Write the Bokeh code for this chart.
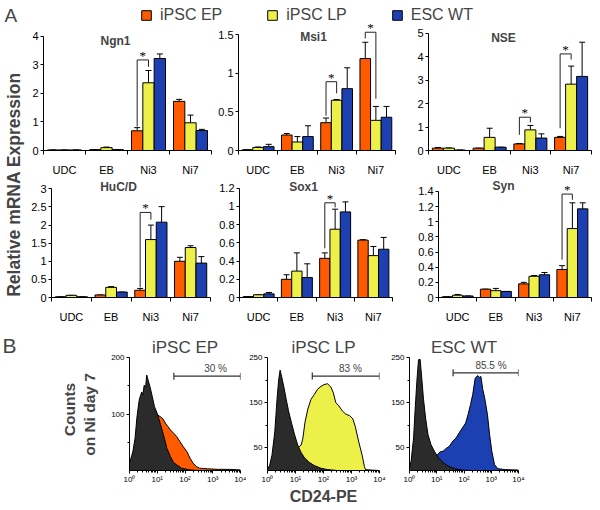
import math
from bokeh.plotting import figure
from bokeh.models import (ColumnDataSource, FactorRange, Range1d, LinearAxis, CategoricalAxis,
                          FixedTicker, Whisker, TeeHead, Label, LabelSet, Legend, LegendItem)
from bokeh.transform import dodge
from bokeh.layouts import column, row
from bokeh.embed import file_html
from bokeh.resources import INLINE

FONT = "Liberation Sans"
EP_C = "#FF5A00"
LP_C = "#EEF04A"
WT_C = "#1C40B2"
CTRL_C = "#2B2B2B"

categories = ["UDC", "EB", "Ni3", "Ni7"]
series_names = ["iPSC EP", "iPSC LP", "ESC WT"]

# ---------------- Panel A data (mean, SD) ----------------
ngn1_ep = [0.02, 0.03, 0.69, 1.72]
ngn1_ep_sd = [0.0, 0.0, 0.11, 0.07]
ngn1_lp = [0.02, 0.10, 2.37, 0.97]
ngn1_lp_sd = [0.0, 0.02, 0.43, 0.27]
ngn1_wt = [0.02, 0.03, 3.22, 0.70]
ngn1_wt_sd = [0.0, 0.0, 0.16, 0.04]
ngn1_ticks = [0, 1, 2, 3, 4]
ngn1_brackets = [("Ni3", 0.84, 3.17, 2.93)]

msi1_ep = [0.01, 0.20, 0.36, 1.19]
msi1_ep_sd = [0.0, 0.02, 0.06, 0.21]
msi1_lp = [0.04, 0.11, 0.65, 0.39]
msi1_lp_sd = [0.005, 0.07, 0.01, 0.18]
msi1_wt = [0.05, 0.18, 0.80, 0.43]
msi1_wt_sd = [0.03, 0.14, 0.27, 0.14]
msi1_ticks = [0, 0.5, 1, 1.5]
msi1_brackets = [("Ni3", 0.45, 0.89, 0.74), ("Ni7", 1.45, 1.53, 0.67)]

nse_ep = [0.10, 0.10, 0.28, 0.56]
nse_ep_sd = [0.03, 0.0, 0.02, 0.04]
nse_lp = [0.10, 0.56, 0.88, 2.83]
nse_lp_sd = [0.01, 0.39, 0.19, 0.77]
nse_wt = [0.02, 0.14, 0.53, 3.16]
nse_wt_sd = [0.0, 0.0, 0.18, 1.46]
nse_ticks = [0, 1, 2, 3, 4, 5]
nse_brackets = [("Ni3", 0.67, 1.42, 1.20), ("Ni7", 0.95, 4.12, 3.88)]

hucd_ep = [0.02, 0.07, 0.20, 1.00]
hucd_ep_sd = [0.0, 0.0, 0.05, 0.11]
hucd_lp = [0.06, 0.28, 1.60, 1.38]
hucd_lp_sd = [0.0, 0.02, 0.40, 0.05]
hucd_wt = [0.02, 0.15, 2.08, 0.95]
hucd_wt_sd = [0.0, 0.0, 0.43, 0.18]
hucd_ticks = [0, 0.5, 1, 1.5, 2, 2.5, 3]
hucd_brackets = [("Ni3", 0.28, 2.35, 2.15)]

sox1_ep = [0.01, 0.20, 0.43, 0.63]
sox1_ep_sd = [0.0, 0.05, 0.06, 0.005]
sox1_lp = [0.03, 0.29, 0.75, 0.46]
sox1_lp_sd = [0.0, 0.20, 0.22, 0.10]
sox1_wt = [0.04, 0.22, 0.94, 0.53]
sox1_wt_sd = [0.015, 0.15, 0.11, 0.13]
sox1_ticks = [0, 0.2, 0.4, 0.6, 0.8, 1, 1.2]
sox1_brackets = [("Ni3", 0.54, 1.04, 0.99)]

syn_ep = [0.01, 0.11, 0.18, 0.37]
syn_ep_sd = [0.0, 0.0, 0.02, 0.05]
syn_lp = [0.03, 0.09, 0.28, 0.91]
syn_lp_sd = [0.01, 0.03, 0.01, 0.34]
syn_wt = [0.02, 0.08, 0.30, 1.17]
syn_wt_sd = [0.0, 0.0, 0.03, 0.08]
syn_ticks = [0, 0.2, 0.4, 0.6, 0.8, 1, 1.2, 1.4]
syn_brackets = [("Ni7", 0.50, 1.365, 1.29)]

# ---------------- Panel B data (log10 CD24-PE, counts) ----------------
ep_ctrl_x = [0.0, 0.12, 0.2, 0.27, 0.35, 0.44, 0.48, 0.53, 0.58, 0.62, 0.67, 0.74, 0.82, 0.9, 1.0,
             1.12, 1.24, 1.35, 1.47, 1.59, 1.7, 1.88, 2.18, 2.5, 4.0]
ep_ctrl_y = [13, 33, 57, 95, 125, 139, 134, 151, 147, 169, 160, 148, 131, 113, 101,
             81, 60, 39, 25, 14, 10, 4, 1, 0, 0]
ep_x = [0.0, 0.2, 0.4, 0.6, 0.8, 0.94, 1.02, 1.12, 1.21, 1.29, 1.38, 1.47, 1.59, 1.7, 1.82,
        1.94, 2.06, 2.18, 2.29, 2.41, 2.53, 2.8, 3.2, 3.6, 4.0]
ep_y = [5, 20, 50, 80, 95, 101, 98, 95, 91, 84, 78, 72, 66, 60, 51,
        42, 34, 22, 13, 7, 4, 3, 2, 2, 1]

lp_ctrl_x = [0.0, 0.08, 0.16, 0.26, 0.34, 0.4, 0.45, 0.49, 0.58, 0.67, 0.75, 0.85, 0.96, 1.08,
             1.2, 1.32, 1.49, 1.67, 1.91, 2.14, 2.5, 4.0]
lp_ctrl_y = [3, 12, 34, 85, 157, 201, 222, 212, 186, 157, 132, 107, 81, 56,
             40, 28, 18, 11, 5, 2, 0, 0]
lp_x = [0.0, 0.2, 0.4, 0.6, 0.8, 1.0, 1.11, 1.2, 1.26, 1.34, 1.44, 1.55, 1.67, 1.79, 1.91, 2.02,
        2.14, 2.26, 2.35, 2.44, 2.55, 2.67, 2.79, 2.94, 3.05, 3.14, 3.26, 3.38, 3.46, 3.5, 3.7, 4.0]
lp_y = [2, 10, 25, 35, 42, 48, 52, 56, 70, 107, 136, 157, 168, 180, 186, 190,
        192, 185, 172, 150, 143, 132, 125, 121, 114, 96, 63, 34, 9, 2, 1, 0]

wt_ctrl_x = [0.0, 0.06, 0.15, 0.21, 0.27, 0.33, 0.39, 0.45, 0.51, 0.59, 0.68, 0.79, 0.91, 1.06,
             1.24, 1.41, 1.65, 1.94, 2.3, 4.0]
wt_ctrl_y = [5, 21, 72, 138, 197, 245, 246, 204, 160, 116, 79, 57, 43, 28,
             17, 10, 4, 1, 0, 0]
wt_x = [0.0, 0.2, 0.4, 0.6, 0.8, 1.0, 1.12, 1.24, 1.35, 1.47, 1.59, 1.71, 1.82, 1.94, 2.06, 2.15,
        2.24, 2.32, 2.41, 2.5, 2.56, 2.62, 2.69, 2.76, 2.86, 2.94, 3.02, 3.12, 3.24, 3.5, 4.0]
wt_y = [2, 8, 15, 22, 28, 33, 41, 43, 49, 54, 65, 72, 83, 94, 105, 124,
        146, 168, 204, 210, 206, 208, 179, 160, 124, 79, 43, 13, 4, 2, 1]

hist_titles = ["iPSC EP", "iPSC LP", "ESC WT"]
gate_range = [1.6, 4.0]
gate_levels = [167, 209, 216]
gate_pcts = ["30 %", "83 %", "85.5 %"]
decade_ticks = [0, 1, 2, 3, 4]
decade_labels = ["10\u2070", "10\u00b9", "10\u00b2", "10\u00b3", "10\u2074"]

OFFS = [-0.27, 0.0, 0.27]
BW = 0.27


def style_axis(ax, size="11px"):
    ax.major_label_text_font = FONT
    ax.major_label_text_font_size = size
    ax.major_label_text_color = "black"
    ax.axis_line_color = "black"
    ax.major_tick_line_color = "black"


def blank(w, h):
    f = figure(width=w, height=h, x_range=Range1d(0, 1), y_range=Range1d(0, 1),
               x_axis_type=None, y_axis_type=None, output_backend="svg", toolbar_location=None,
               min_border=0, title=None)
    f.outline_line_color = None
    return f


def bar_panel(title, ep, ep_sd, lp, lp_sd, wt, wt_sd, ticks, y_end, brackets,
              w, h, bl, br, bb, title_xy):
    data = dict(cat=categories, ep=ep, lp=lp, wt=wt,
                ep_hi=[m + s for m, s in zip(ep, ep_sd)],
                lp_hi=[m + s for m, s in zip(lp, lp_sd)],
                wt_hi=[m + s for m, s in zip(wt, wt_sd)])
    src = ColumnDataSource(data)
    p = figure(width=w, height=h, x_range=FactorRange(*categories), y_range=Range1d(0, y_end),
               x_axis_type=None, y_axis_type=None, output_backend="svg", toolbar_location=None,
               min_border_left=bl, min_border_right=br, min_border_top=0, min_border_bottom=bb,
               title=None)
    p.outline_line_color = None

    yax = LinearAxis(ticker=FixedTicker(ticks=ticks), bounds=(0, ticks[-1]),
                     major_label_overrides={t: f"{t:g}" for t in ticks},
                     major_tick_out=3, major_tick_in=0, minor_tick_line_color=None,
                     major_label_standoff=2)
    style_axis(yax)
    p.add_layout(yax, "left")

    edges = list(range(len(categories) + 1))
    tax = LinearAxis(ticker=FixedTicker(ticks=edges),
                     major_label_overrides={e: "" for e in edges},
                     major_tick_out=4, major_tick_in=0, minor_tick_line_color=None,
                     major_label_standoff=0)
    style_axis(tax, "1px")
    p.add_layout(tax, "below")
    cax = CategoricalAxis(axis_line_color=None, major_tick_line_color=None,
                          major_label_standoff=3)
    cax.major_label_text_font = FONT
    cax.major_label_text_font_size = "11px"
    cax.major_label_text_color = "black"
    p.add_layout(cax, "below")

    for key, off, col in zip(["ep", "lp", "wt"], OFFS, [EP_C, LP_C, WT_C]):
        p.vbar(x=dodge("cat", off, range=p.x_range), top=key, width=BW, source=src,
               fill_color=col, line_color="black", line_width=1)
        p.add_layout(Whisker(source=src, base=dodge("cat", off, range=p.x_range),
                             lower=key, upper=key + "_hi", line_color="black", line_width=1,
                             lower_head=None,
                             upper_head=TeeHead(size=6, line_color="black", line_width=1)))

    bsrc = ColumnDataSource(dict(cat=[b[0] for b in brackets], lb=[b[1] for b in brackets],
                                 top=[b[2] for b in brackets], rb=[b[3] for b in brackets],
                                 star=["*"] * len(brackets)))
    L = dodge("cat", OFFS[0], range=p.x_range)
    R = dodge("cat", OFFS[1], range=p.x_range)
    p.segment(x0=L, y0="lb", x1=L, y1="top", source=bsrc, line_color="#222222", line_width=1)
    p.segment(x0=L, y0="top", x1=R, y1="top", source=bsrc, line_color="#222222", line_width=1)
    p.segment(x0=R, y0="rb", x1=R, y1="top", source=bsrc, line_color="#222222", line_width=1)
    p.add_layout(LabelSet(x=dodge("cat", (OFFS[0] + OFFS[1]) / 2, range=p.x_range), y="top",
                          text="star", source=bsrc, text_align="center",
                          text_baseline="alphabetic", text_font=FONT, text_font_size="13px",
                          text_color="black"))
    p.add_layout(Label(x=title_xy[0], y=title_xy[1], x_units="screen", y_units="screen",
                       text=title, text_font=FONT, text_font_size="12px",
                       text_font_style="bold", text_align="center", text_baseline="middle"))
    return p


def hist_panel(title, cx, cy, sx, sy, color, y_end, yticks, yminor, gate_y, pct,
               w, bl, br, pct_x):
    p = figure(width=w, height=161, x_range=Range1d(0, 4), y_range=Range1d(0, y_end),
               x_axis_type=None, y_axis_type=None, output_backend="svg", toolbar_location=None,
               min_border_left=bl, min_border_right=br, min_border_top=32, min_border_bottom=14,
               title=title)
    p.title.text_font = FONT
    p.title.text_font_size = "17px"
    p.title.text_font_style = "normal"
    p.title.align = "center"
    p.title.standoff = 1
    p.outline_line_color = None
    p.varea(x=sx, y1=0, y2=sy, fill_color=color)
    p.line(sx, sy, line_color="black", line_width=1)
    p.varea(x=cx, y1=0, y2=cy, fill_color=CTRL_C)
    p.line(cx, cy, line_color="black", line_width=1)

    minor = [k + math.log10(m) for k in range(4) for m in range(2, 10)]
    xax = LinearAxis(ticker=FixedTicker(ticks=decade_ticks, minor_ticks=minor),
                     major_label_overrides=dict(zip(decade_ticks, decade_labels)),
                     major_tick_out=3, major_tick_in=0, minor_tick_out=2, minor_tick_in=0,
                     major_label_standoff=1)
    style_axis(xax, "8px")
    xax.minor_tick_line_color = "black"
    p.add_layout(xax, "below")
    yax = LinearAxis(ticker=FixedTicker(ticks=yticks, minor_ticks=yminor),
                     major_tick_out=3, major_tick_in=0, minor_tick_out=2, minor_tick_in=0,
                     major_label_standoff=2)
    style_axis(yax, "8px")
    yax.minor_tick_line_color = "black"
    p.add_layout(yax, "left")

    gsrc = ColumnDataSource(dict(base=[gate_y], lower=[gate_range[0]], upper=[gate_range[1]]))
    p.add_layout(Whisker(source=gsrc, base="base", lower="lower", upper="upper",
                         dimension="width", line_color="#333333", line_width=1.2,
                         lower_head=TeeHead(size=7, line_color="#333333", line_width=1.2),
                         upper_head=TeeHead(size=7, line_color="#333333", line_width=1.2),
                         level="overlay"))
    p.add_layout(Label(x=pct_x, y=gate_y, text=pct, y_offset=2, text_font=FONT,
                       text_font_size="10px", text_align="center", text_baseline="bottom"))
    return p


# ---------------- header: panel letter A + legend ----------------
hdr = blank(600, 22)
# legend swatches: renderers kept outside the visible range so only their legend glyphs show
rs = [hdr.vbar(x=[-5], top=[-5], bottom=[-6], width=0.1, fill_color=c, line_color="black",
               line_width=1) for c in [EP_C, LP_C, WT_C]]
legend = Legend(items=[LegendItem(label=n, renderers=[r]) for n, r in zip(series_names, rs)],
                orientation="horizontal", location=(140, -2), glyph_width=12, glyph_height=12,
                label_standoff=8, spacing=44, padding=0, margin=0, label_height=12,
                border_line_color=None, background_fill_alpha=0,
                label_text_font=FONT, label_text_font_size="16px")
hdr.add_layout(legend)
hdr.add_layout(Label(x=4, y=7, x_units="screen", y_units="screen", text="A", text_font=FONT,
                     text_font_size="19px", text_baseline="middle"))

# ---------------- y label (A) ----------------
ylab = blank(26, 303)
ylab.add_layout(Label(x=13.5, y=141, x_units="screen", y_units="screen", angle=math.pi / 2,
                      text="Relative mRNA Expression", text_font=FONT, text_font_size="17.5px",
                      text_font_style="bold", text_align="center", text_baseline="middle"))

ngn1 = bar_panel("Ngn1", ngn1_ep, ngn1_ep_sd, ngn1_lp, ngn1_lp_sd, ngn1_wt, ngn1_wt_sd,
                 ngn1_ticks, 4.48, ngn1_brackets, 188, 156, 17, 3, 25, (72, 110))
msi1 = bar_panel("Msi1", msi1_ep, msi1_ep_sd, msi1_lp, msi1_lp_sd, msi1_wt, msi1_wt_sd,
                 msi1_ticks, 1.656, msi1_brackets, 196, 156, 24, 15, 25, (75, 114))
nse = bar_panel("NSE", nse_ep, nse_ep_sd, nse_lp, nse_lp_sd, nse_wt, nse_wt_sd,
                nse_ticks, 5.46, nse_brackets, 190, 156, 18, 9, 25, (75, 113))
hucd = bar_panel("HuC/D", hucd_ep, hucd_ep_sd, hucd_lp, hucd_lp_sd, hucd_wt, hucd_wt_sd,
                 hucd_ticks, 3.287, hucd_brackets, 188, 147, 25, 4, 21, (67, 111))
sox1 = bar_panel("Sox1", sox1_ep, sox1_ep_sd, sox1_lp, sox1_lp_sd, sox1_wt, sox1_wt_sd,
                 sox1_ticks, 1.307, sox1_brackets, 198, 147, 25, 20, 21, (64, 111))
syn = bar_panel("Syn", syn_ep, syn_ep_sd, syn_lp, syn_lp_sd, syn_wt, syn_wt_sd,
                syn_ticks, 1.571, syn_brackets, 188, 147, 26, 9, 21, (65, 112))

# ---------------- panel B ----------------
# left strip of row B: same borders as the histograms so its frame lines up with theirs;
# the panel letter "B" is its title (drawn above the frame), the axis title sits in the frame
bleft = figure(width=108, height=161, x_range=Range1d(0, 1), y_range=Range1d(0, 1),
               x_axis_type=None, y_axis_type=None, output_backend="svg", toolbar_location=None,
               min_border_left=0, min_border_right=0, min_border_top=32, min_border_bottom=14,
               title="B")
bleft.outline_line_color = None
bleft.title.text_font = FONT
bleft.title.text_font_size = "21px"
bleft.title.text_font_style = "normal"
bleft.title.align = "left"
bleft.title.standoff = 1
bleft.title.offset = 2
bleft.add_layout(Label(x=69, y=61, x_units="screen", y_units="screen", angle=math.pi / 2,
                       text="Counts", text_font=FONT, text_font_size="15.5px",
                       text_font_style="bold", text_align="center", text_baseline="middle"))
bleft.add_layout(Label(x=88.5, y=56, x_units="screen", y_units="screen", angle=math.pi / 2,
                       text="on Ni day 7", text_font=FONT, text_font_size="15.5px",
                       text_font_style="bold", text_align="center", text_baseline="middle"))

b1 = hist_panel(hist_titles[0], ep_ctrl_x, ep_ctrl_y, ep_x, ep_y, EP_C, 200, [100, 200], [50, 150],
                gate_levels[0], gate_pcts[0], 138, 17, 6, 3.1)
b2 = hist_panel(hist_titles[1], lp_ctrl_x, lp_ctrl_y, lp_x, lp_y, LP_C, 250, [50, 150, 250],
                [100, 200], gate_levels[1], gate_pcts[1], 142, 20, 9, 2.96)
b3 = hist_panel(hist_titles[2], wt_ctrl_x, wt_ctrl_y, wt_x, wt_y, WT_C, 250, [50, 150, 250],
                [100, 200], gate_levels[2], gate_pcts[2], 212, 17, 82, 2.99)

footer = blank(600, 22)
footer.add_layout(Label(x=323, y=12, x_units="screen", y_units="screen", text="CD24-PE",
                        text_font=FONT, text_font_size="16px", text_font_style="bold",
                        text_align="center", text_baseline="middle"))

layout = column(hdr,
                row(ylab, column(row(ngn1, msi1, nse), row(hucd, sox1, syn))),
                row(bleft, b1, b2, b3),
                footer)

open("out.html", "w").write(file_html(layout, INLINE))
